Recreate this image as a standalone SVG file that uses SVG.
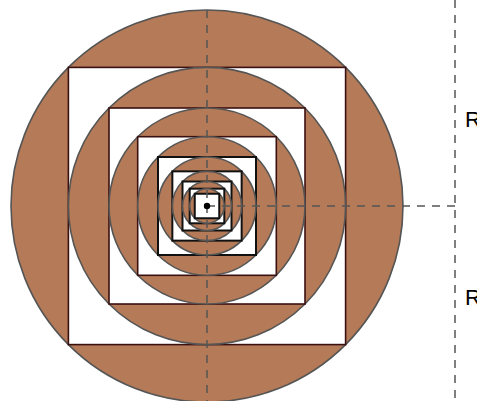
<svg xmlns="http://www.w3.org/2000/svg" width="477" height="401" viewBox="0 0 477 401">
<style>
.c{fill:#b57a57;stroke:#555;stroke-width:1.6}
.s{fill:#fff;stroke:#3a1010;stroke-width:1.6}
.si{fill:#fff;stroke:#111;stroke-width:2}
.d{stroke:#555;stroke-width:1.5;stroke-dasharray:8,7;fill:none}
.t{font-family:"Liberation Sans",Arial,sans-serif;font-size:22px;fill:#000}
</style>
<rect width="477" height="401" fill="#fff"/>
<g id="figure">
<circle class="c" cx="207" cy="206" r="196"/>
<rect class="s" x="68.4" y="67.4" width="277.2" height="277.2"/>
<circle class="c" cx="207" cy="206" r="138.6"/>
<rect class="s" x="109" y="108" width="196" height="196"/>
<circle class="c" cx="207" cy="206" r="98"/>
<rect class="s" x="137.7" y="136.7" width="138.6" height="138.6"/>
<circle class="c" cx="207" cy="206" r="69.3"/>
<rect class="si" x="158" y="157" width="98" height="98"/>
<circle class="c" cx="207" cy="206" r="49"/>
<rect class="si" x="172.35" y="171.35" width="69.3" height="69.3"/>
<circle class="c" cx="207" cy="206" r="34.65"/>
<rect class="si" x="182.5" y="181.5" width="49" height="49"/>
<circle class="c" cx="207" cy="206" r="24.5"/>
<rect class="si" x="189.7" y="188.7" width="34.6" height="34.6"/>
<circle class="c" cx="207" cy="206" r="17.3"/>
<rect class="si" x="194.75" y="193.75" width="24.5" height="24.5"/>
</g>
<g id="connectors">
<line class="d" x1="207" y1="10" x2="207" y2="401"/>
<line class="d" x1="207" y1="206" x2="455" y2="206"/>
<line class="d" x1="455" y1="0" x2="455" y2="401"/>
</g>
<g id="center"><circle cx="207" cy="206" r="3.2" fill="#000"/></g>
<g id="labels">
<text class="t" x="465" y="127">R</text>
<text class="t" x="465" y="305">R</text>
</g>
</svg>
